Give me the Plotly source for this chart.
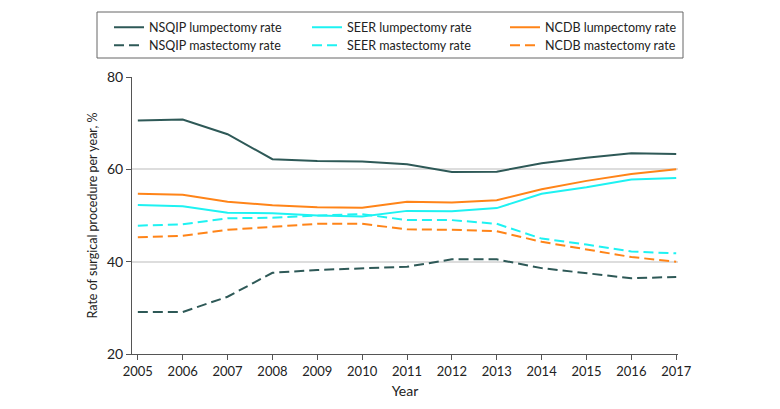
import plotly.graph_objects as go

years = list(range(2005, 2018))
nsqip_lump = [70.6, 70.8, 67.6, 62.2, 61.8, 61.7, 61.1, 59.4, 59.5, 61.3, 62.5, 63.5, 63.3]
nsqip_mast = [29.1, 29.1, 32.4, 37.6, 38.2, 38.6, 38.9, 40.5, 40.5, 38.6, 37.5, 36.4, 36.7]
seer_lump = [52.3, 52.0, 50.6, 50.5, 50.0, 49.8, 51.0, 50.9, 51.6, 54.7, 56.1, 57.8, 58.1]
seer_mast = [47.8, 48.1, 49.4, 49.5, 50.0, 50.3, 49.0, 49.0, 48.2, 45.0, 43.7, 42.2, 41.8]
ncdb_lump = [54.7, 54.5, 53.0, 52.2, 51.8, 51.7, 53.0, 52.8, 53.3, 55.7, 57.5, 59.0, 60.0]
ncdb_mast = [45.3, 45.6, 46.9, 47.6, 48.2, 48.2, 47.0, 46.9, 46.6, 44.3, 42.6, 41.0, 40.0]

C_NSQIP = "#2E5957"
C_SEER = "#1EF2F2"
C_NCDB = "#FF8418"
FONT = "Lato, Roboto, sans-serif"
DASH = "10px,5px"

series = [
    ("NSQIP lumpectomy rate", nsqip_lump, C_NSQIP, "solid", "legend"),
    ("SEER lumpectomy rate", seer_lump, C_SEER, "solid", "legend"),
    ("NCDB lumpectomy rate", ncdb_lump, C_NCDB, "solid", "legend"),
    ("NSQIP mastectomy rate", nsqip_mast, C_NSQIP, DASH, "legend2"),
    ("SEER mastectomy rate", seer_mast, C_SEER, DASH, "legend2"),
    ("NCDB mastectomy rate", ncdb_mast, C_NCDB, DASH, "legend2"),
]

fig = go.Figure()
for name, vals, col, dash, lg in series:
    fig.add_trace(go.Scatter(x=years, y=vals, name=name, mode="lines", legend=lg,
                             line=dict(color=col, width=2, dash=dash)))

PL, PR, PT, PB = 132, 678, 77, 354
PW, PH = PR - PL, PB - PT


def legend_at(top_px):
    return dict(orientation="h", x=(109 - PL) / PW, xanchor="left",
                y=(PB - top_px) / PH, yanchor="top",
                entrywidth=153, entrywidthmode="pixels",
                font=dict(family=FONT, size=12.5, color="#222"),
                bgcolor="rgba(0,0,0,0)", borderwidth=0, itemwidth=30)


fig.update_layout(
    width=780, height=409,
    margin=dict(l=PL, r=780 - PR, t=PT, b=409 - PB, autoexpand=False),
    paper_bgcolor="white", plot_bgcolor="white",
    font=dict(family=FONT, size=13, color="#222"),
    showlegend=True,
    legend=legend_at(12.5),
    legend2=legend_at(30.5),
    xaxis=dict(range=[2004.87, 2017.04], tickvals=years, ticktext=[str(y) for y in years],
               showgrid=False, showline=True, linecolor="#555", linewidth=1,
               ticks="outside", ticklen=5, tickcolor="#555", zeroline=False,
               title=dict(text="Year", font=dict(size=14), standoff=8)),
    yaxis=dict(range=[20, 80], tickvals=[20, 40, 60, 80], showgrid=True,
               gridcolor="#DDDDDD", gridwidth=1.5, showline=True, linecolor="#555",
               linewidth=1, ticks="outside", ticklen=5, tickcolor="#555", zeroline=False,
               tickfont=dict(size=14),
               title=dict(text="Rate of surgical procedure per year, %", font=dict(size=12.5), standoff=6)),
    shapes=[dict(type="rect", xref="paper", yref="paper",
                 x0=(97 - PL) / PW, x1=(683 - PL) / PW,
                 y0=(PB - 58) / PH, y1=(PB - 12) / PH,
                 line=dict(color="#666", width=1), fillcolor="rgba(0,0,0,0)", layer="above")],
)

fig.write_html("out.html", config={"displayModeBar": False},
               post_script="document.body.style.margin='0px';")
